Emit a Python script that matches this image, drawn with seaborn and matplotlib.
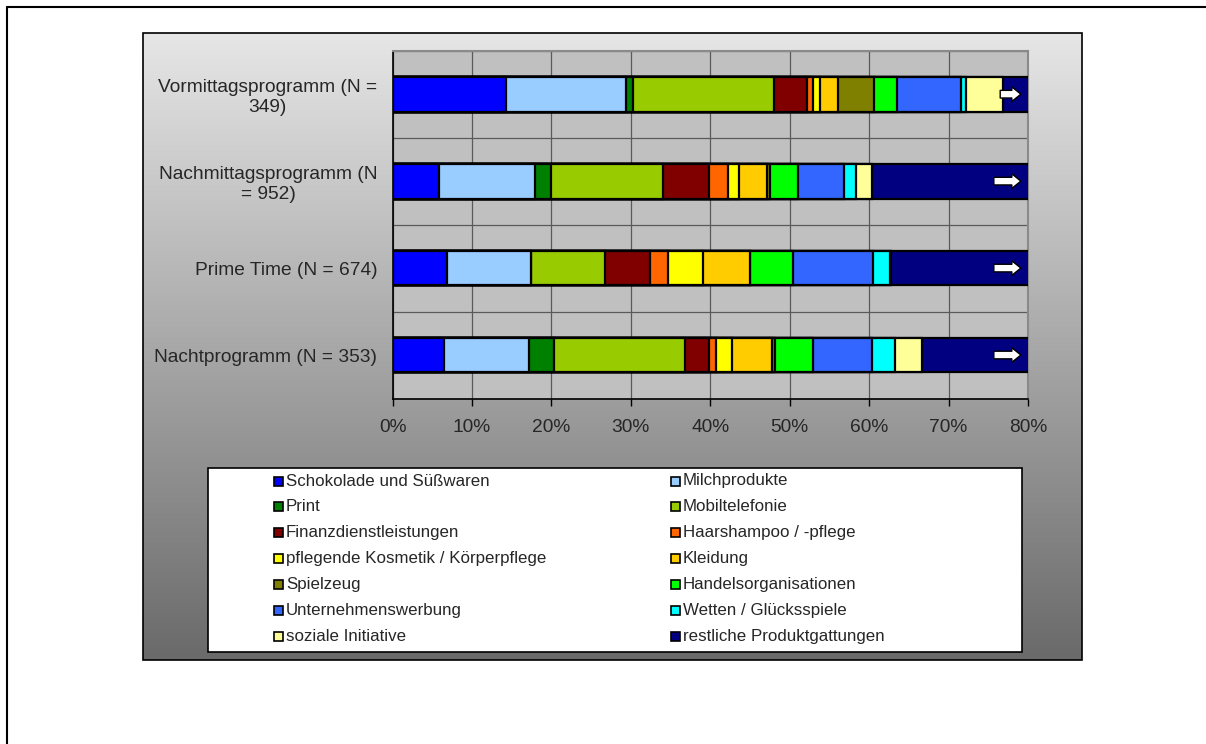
import numpy as np
import pandas as pd
import matplotlib
matplotlib.use("Agg")
import matplotlib.pyplot as plt
from matplotlib.patches import Rectangle
from matplotlib.lines import Line2D
from matplotlib.colors import LinearSegmentedColormap
import seaborn as sns

# Programme slots (y categories)
programmes = [
    "Vormittagsprogramm (N =\n349)",
    "Nachmittagsprogramm (N\n= 952)",
    "Prime Time (N = 674)",
    "Nachtprogramm (N = 353)",
]

# Product genres and their colours
genres = [
    "Schokolade und Süßwaren", "Milchprodukte", "Print", "Mobiltelefonie",
    "Finanzdienstleistungen", "Haarshampoo / -pflege",
    "pflegende Kosmetik / Körperpflege", "Kleidung", "Spielzeug",
    "Handelsorganisationen", "Unternehmenswerbung", "Wetten / Glücksspiele",
    "soziale Initiative", "restliche Produktgattungen",
]
genre_colors = [
    "#0000FF", "#99CCFF", "#008000", "#99CC00", "#800000", "#FF6600",
    "#FFFF00", "#FFCC00", "#808000", "#00FF00", "#3366FF", "#00FFFF",
    "#FFFF99", "#000080",
]

# Share of spots per genre (%), in programme order
schokolade = [14.3, 5.8, 6.9, 6.5]
milch = [15.1, 12.1, 10.5, 10.7]
print_medien = [0.9, 2.1, 0.0, 3.1]
mobil = [17.7, 14.1, 9.4, 16.5]
finanz = [4.2, 5.8, 5.6, 3.1]
haar = [0.7, 2.3, 2.3, 0.8]
kosmetik = [0.9, 1.4, 4.4, 2.1]
kleidung = [2.3, 3.5, 5.9, 5.0]
spielzeug = [4.5, 0.4, 0.0, 0.4]
handel = [2.9, 3.6, 5.4, 4.7]
unternehmen = [8.1, 5.8, 10.1, 7.4]
wetten = [0.6, 1.4, 2.1, 2.9]
sozial = [4.6, 2.1, 0.2, 3.4]
restliche = [23.2, 39.6, 37.2, 33.4]

x_ticks = [0, 10, 20, 30, 40, 50, 60, 70, 80]
x_ticklabels = ["0%", "10%", "20%", "30%", "40%", "50%", "60%", "70%", "80%"]

series = [schokolade, milch, print_medien, mobil, finanz, haar, kosmetik,
          kleidung, spielzeug, handel, unternehmen, wetten, sozial, restliche]

rows = []
for g, vals in zip(genres, series):
    for p, v in zip(programmes, vals):
        rows.append({"programme": p, "genre": g, "share": v})
df = pd.DataFrame(rows)
df["genre"] = pd.Categorical(df["genre"], categories=genres, ordered=True)
df["programme"] = pd.Categorical(df["programme"], categories=programmes, ordered=True)
df = df.sort_values(["programme", "genre"])
df["cum"] = df.groupby("programme", observed=True)["share"].cumsum()
df["start"] = df["cum"] - df["share"]

sns.set_theme(style="white")
plt.rcParams["font.family"] = ["Liberation Sans", "DejaVu Sans"]

W, H = 1206, 744
fig = plt.figure(figsize=(W / 100, H / 100), dpi=100)
fig.patch.set_facecolor("white")

# Outer frame (left and top edges)
fig.add_artist(Line2D([7 / W, 7 / W], [0, 1 - 7 / H], transform=fig.transFigure,
                      color="black", lw=1.5))
fig.add_artist(Line2D([7 / W, 1], [1 - 7 / H, 1 - 7 / H], transform=fig.transFigure,
                      color="black", lw=1.5))

# Chart area with vertical grey gradient
bx0, by0, bx1, by1 = 143, 33, 1082, 660
bg = fig.add_axes([bx0 / W, 1 - by1 / H, (bx1 - bx0) / W, (by1 - by0) / H], zorder=0)
grad_cmap = LinearSegmentedColormap.from_list("grad", ["#e6e6e6", "#6a6a6a"])
bg.imshow(np.linspace(0, 1, 256).reshape(-1, 1), aspect="auto", cmap=grad_cmap,
          extent=[0, 1, 0, 1], origin="upper")
bg.set_axis_off()
bg.add_patch(Rectangle((0, 0), 1, 1, transform=bg.transAxes, fill=False,
                       ec="black", lw=1.2, clip_on=False))

# Plot area
px0, py0, px1, py1 = 392.5, 50.7, 1028, 398.5
ax = fig.add_axes([px0 / W, 1 - py1 / H, (px1 - px0) / W, (py1 - py0) / H], zorder=2)
ax.set_facecolor("#C0C0C0")

# Stacked bars: draw cumulative totals from the last genre to the first
for g, c in reversed(list(zip(genres, genre_colors))):
    sub = df[df["genre"] == g]
    sns.barplot(data=sub, x="cum", y="programme", order=programmes, orient="h",
                color=c, saturation=1, width=0.4, edgecolor="black",
                linewidth=1.6, errorbar=None, ax=ax, zorder=3)

ax.set_xlim(0, 80)
ax.set_ylim(len(programmes) - 0.5, -0.5)
ax.set_xticks(x_ticks)
ax.set_xticklabels(x_ticklabels, fontsize=13.8)
ax.set_yticks(range(len(programmes)))
ax.set_yticklabels(programmes, fontsize=13.8, ha="right", multialignment="center",
                   linespacing=1.25)
ax.set_yticks(np.arange(-0.5, len(programmes), 1.0), minor=True)
ax.tick_params(axis="y", which="major", length=0, pad=11)
ax.tick_params(axis="y", which="minor", length=5, width=1, color="black", direction="out")
ax.tick_params(axis="x", which="major", length=5, width=1, color="black",
               direction="out", pad=10, bottom=True)
ax.set_xlabel("")
ax.set_ylabel("")

ax.grid(False)
ax.xaxis.grid(True, which="major", color="#5a5a5a", lw=0.9, zorder=0)
ax.yaxis.grid(True, which="minor", color="#5a5a5a", lw=0.9, zorder=0)
ax.set_axisbelow(True)

for side in ["left", "bottom"]:
    ax.spines[side].set_color("black")
    ax.spines[side].set_linewidth(1.2)
for side in ["top", "right"]:
    ax.spines[side].set_color("#8a8a8a")
    ax.spines[side].set_linewidth(1.5)

# White arrows marking bars that continue beyond 80 %
rest = df[df["genre"] == genres[-1]]
for i, p in enumerate(programmes):
    start = float(rest.loc[rest["programme"] == p, "start"].iloc[0])
    tail = max(75.7, start - 0.3)
    ax.annotate("", xy=(79.1, i), xytext=(tail, i), zorder=6,
                arrowprops=dict(arrowstyle="simple,head_length=0.65,head_width=1.05,tail_width=0.55",
                                fc="white", ec="black", lw=1.0,
                                shrinkA=0, shrinkB=0, mutation_scale=10))

# Legend box
lx0, ly0, lx1, ly1 = 208, 468, 1022, 652
fig.add_artist(Rectangle((lx0 / W, 1 - ly1 / H), (lx1 - lx0) / W, (ly1 - ly0) / H,
                         transform=fig.transFigure, fc="white", ec="black", lw=1.2,
                         zorder=3))
col_x = [274, 671]
row_y0, row_dy = 481, 25.9
msz = 9
for k, (g, c) in enumerate(zip(genres, genre_colors)):
    col, row = k % 2, k // 2
    mx = col_x[col]
    my = row_y0 + row * row_dy
    fig.add_artist(Rectangle((mx / W, 1 - (my + msz / 2) / H), msz / W, msz / H,
                             transform=fig.transFigure, fc=c, ec="black", lw=1.2,
                             zorder=4))
    fig.text((mx + msz + 3) / W, 1 - my / H, g, ha="left", va="center",
             fontsize=12.2, zorder=5)

fig.savefig("out.png", dpi=100, facecolor="white")
